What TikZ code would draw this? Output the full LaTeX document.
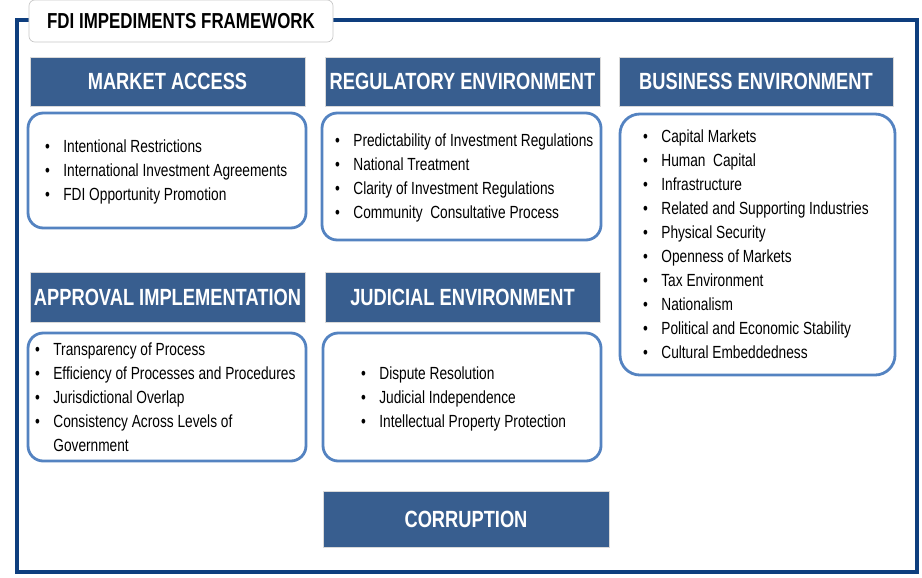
\documentclass[tikz,border=0pt]{standalone}
\usepackage{fontspec}
\setmainfont{Liberation Sans}[FakeStretch=0.78]
\usetikzlibrary{positioning}
\definecolor{fdi_frame}{RGB}{14, 62, 126}
\definecolor{fdi_head}{RGB}{56, 94, 143}
\definecolor{fdi_line}{RGB}{84, 131, 193}
\newcommand{\fdilist}[1]{\begin{tabular}{@{}l@{\hspace{0.4cm}}l@{}}#1\end{tabular}}

\begin{document}
\begin{tikzpicture}[x=0.03cm, y=-0.03cm,
      title/.style={draw=black!22, fill=white, rounded corners=5pt, line width=0.6pt,
        minimum width=9.12cm, minimum height=1.26cm, inner sep=0pt,
        font=\fontsize{18.5}{22}\selectfont\bfseries},
      head/.style={draw=black!15, fill=fdi_head, line width=0.8pt, text=white,
        minimum width=8.25cm, minimum height=1.47cm, inner sep=0pt,
        font=\fontsize{20}{24}\selectfont\bfseries},
      panel/.style={draw=fdi_line, fill=white, line width=2.4pt, rounded corners=13pt,
        minimum width=8.34cm, minimum height=3.84cm, inner sep=0pt},
      items/.style={anchor=west, inner sep=0pt, font=\fontsize{15}{20.5}\selectfont}]

    \useasboundingbox (0,0) rectangle (922,577);

    %% ---- frame and title ------------------------------------------------
    \draw[fdi_frame, line width=3.4pt] (17,20) rectangle (917,572);
    \node[title] (ttl) at (181,21) {FDI IMPEDIMENTS FRAMEWORK};

    %% ---- headers --------------------------------------------------------
    \node[head] (mkt) at (167.5,81.5) {MARKET ACCESS};
    \node[head] (reg) at (462.5,81.5) {REGULATORY ENVIRONMENT};
    \node[head, minimum width=8.22cm] (bus) at (756,81.5) {BUSINESS ENVIRONMENT};
    \node[head, minimum height=1.5cm] (apr) at (167.5,297) {APPROVAL IMPLEMENTATION};
    \node[head, minimum height=1.5cm] (jud) at (462.5,297) {JUDICIAL ENVIRONMENT};
    \node[head, minimum width=8.58cm, minimum height=1.68cm] (cor) at (466,519) {CORRUPTION};

    %% ---- panels ---------------------------------------------------------
    \node[panel, minimum height=3.45cm] (mkt-box) at (167,170.5) {};
    \node[panel, minimum width=8.37cm, minimum height=3.81cm] (reg-box) at (461.5,176.5) {};
    \node[panel, minimum width=8.25cm, minimum height=7.83cm, rounded corners=17pt]
      (bus-box) at (757.5,244.5) {};
    \node[panel] (apr-box) at (167,397) {};
    \node[panel] (jud-box) at (462,397) {};

    %% ---- lists ----------------------------------------------------------
    \node[items] (mkt-list) at (45,172) {\fdilist{
      \textbullet & Intentional Restrictions\\
      \textbullet & International Investment Agreements\\
      \textbullet & FDI Opportunity Promotion}};

    \node[items] (reg-list) at (335,178) {\fdilist{
      \textbullet & Predictability of Investment Regulations\\
      \textbullet & National Treatment\\
      \textbullet & Clarity of Investment Regulations\\
      \textbullet & Community\ \ Consultative Process}};

    \node[items] (bus-list) at (643,245.5) {\fdilist{
      \textbullet & Capital Markets\\
      \textbullet & Human\ \ Capital\\
      \textbullet & Infrastructure\\
      \textbullet & Related and Supporting Industries\\
      \textbullet & Physical Security\\
      \textbullet & Openness of Markets\\
      \textbullet & Tax Environment\\
      \textbullet & Nationalism\\
      \textbullet & Political and Economic Stability\\
      \textbullet & Cultural Embeddedness}};

    \node[items] (apr-list) at (35,399) {\fdilist{
      \textbullet & Transparency of Process\\
      \textbullet & Efficiency of Processes and Procedures\\
      \textbullet & Jurisdictional Overlap\\
      \textbullet & Consistency Across Levels of\\
                  & Government}};

    \node[items] (jud-list) at (361,399) {\fdilist{
      \textbullet & Dispute Resolution\\
      \textbullet & Judicial Independence\\
      \textbullet & Intellectual Property Protection}};
  \end{tikzpicture}
\end{document}
